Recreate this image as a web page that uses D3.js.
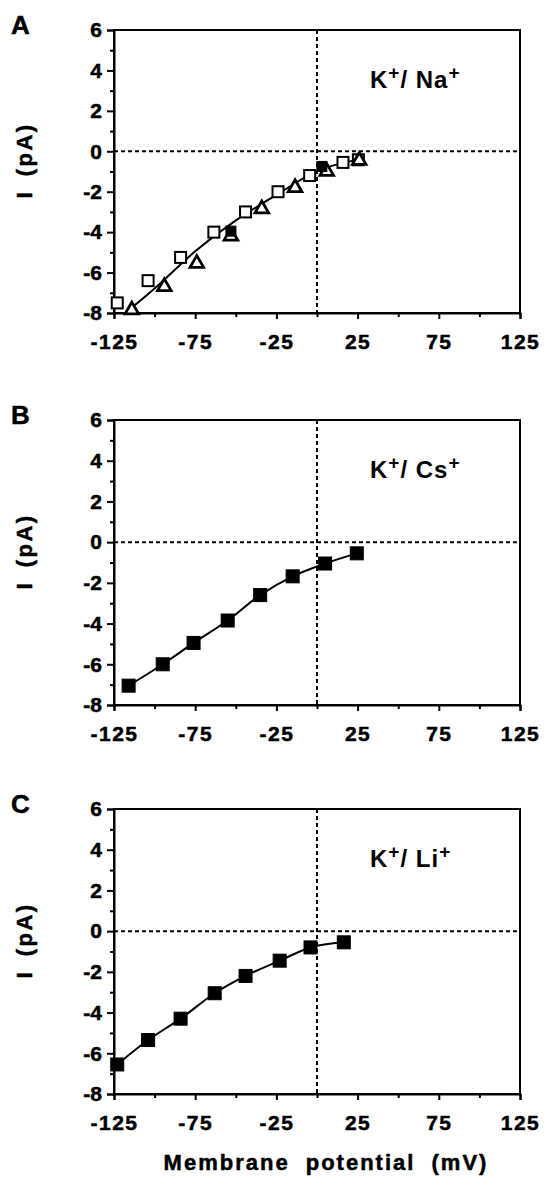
<!DOCTYPE html>
<html>
<head>
<meta charset="utf-8">
<script src="https://cdn.jsdelivr.net/npm/d3@7"></script>
<style>
body { margin: 0; background: #fff; }
svg text { font-family: "Liberation Sans", Arial, Helvetica, sans-serif; fill: #000; }
</style>
</head>
<body>
<svg width="549" height="1185"></svg>
<script>
// ---- data ----
const panelLetters = ['A', 'B', 'C']
const ionNames = ['Na', 'Cs', 'Li']

const xTicks = [-125, -100, -75, -50, -25, 0, 25, 50, 75, 100, 125]
const xLabels = [-125, -75, -25, 25, 75, 125]
const yTicks = [-8, -7, -6, -5, -4, -3, -2, -1, 0, 1, 2, 3, 4, 5, 6]
const yLabels = [-8, -6, -4, -2, 0, 2, 4, 6]

// panel A, K+/Na+
const naSquareV = [-123, -104, -84, -63.5, -44, -24, -4.5, 16, 25.5]
const naSquareI = [-7.5, -6.4, -5.25, -4.0, -3.0, -2.0, -1.2, -0.55, -0.42]
const naTriV = [-114, -94, -74, -53, -34, -13.5, 6, 26]
const naTriI = [-7.85, -6.7, -5.55, -4.2, -2.85, -1.8, -1.0, -0.45]
const naFilledV = [-53, 3]
const naFilledI = [-3.95, -0.75]
const naFitV = [-116.5, -100, -75, -50, -25, 0, 26]
const naFitI = [-7.9, -6.79, -4.95, -3.42, -2.16, -0.98, -0.4]

// panel B, K+/Cs+
const csV = [-116, -95, -76, -55, -35, -15, 5, 24.5]
const csI = [-7.05, -6.0, -4.95, -3.85, -2.6, -1.68, -1.05, -0.55]

// panel C, K+/Li+
const liV = [-123, -104, -84, -63, -44, -23, -4, 16.5]
const liI = [-6.55, -5.35, -4.3, -3.05, -2.2, -1.45, -0.8, -0.55]

const zip = (xs, ys) => xs.map((v, i) => [v, ys[i]])

// ---- layout ----
const svg = d3.select('svg')
const left = 114, right = 520
const tops = [30, 420, 809]
const bottoms = [313, 705, 1094]
const heavy = sel => sel.attr('font-weight', 'bold')
    .attr('stroke', '#000').attr('stroke-width', 0.5)

const draw_panel = (i, fit, sets) => {
    const x = d3.scaleLinear().domain([-125, 125]).range([left, right])
    const y = d3.scaleLinear().domain([-8, 6]).range([bottoms[i], tops[i]])
    const g = svg.append('g')

    // dotted zero lines
    g.append('line')
        .attr('x1', left).attr('x2', right)
        .attr('y1', y(0)).attr('y2', y(0))
        .attr('stroke', '#000').attr('stroke-width', 2)
        .attr('stroke-dasharray', '4,3')
    g.append('line')
        .attr('x1', x(0)).attr('x2', x(0))
        .attr('y1', tops[i]).attr('y2', bottoms[i])
        .attr('stroke', '#000').attr('stroke-width', 2)
        .attr('stroke-dasharray', '4,3')

    // frame
    g.append('rect')
        .attr('x', left).attr('y', tops[i])
        .attr('width', right - left).attr('height', bottoms[i] - tops[i])
        .attr('fill', 'none').attr('stroke', '#000').attr('stroke-width', 2)

    // x axis
    const gx = g.append('g')
        .attr('transform', `translate(0,${bottoms[i]})`)
        .call(d3.axisBottom(x).tickValues(xTicks).tickSizeOuter(0)
            .tickSize(6).tickPadding(15)
            .tickFormat(d => xLabels.includes(d) ? d : ''))
    gx.select('.domain').attr('stroke-width', 2)
    gx.selectAll('.tick line').attr('stroke-width', 2)
        .attr('y2', d => xLabels.includes(d) ? 6 : 4)
    gx.selectAll('.tick text')
        .attr('font-size', 21)
        .attr('font-family', '"Liberation Sans", Arial, sans-serif')
        .attr('letter-spacing', 1.5)
        .call(heavy)

    // y axis
    const gy = g.append('g')
        .attr('transform', `translate(${left},0)`)
        .call(d3.axisLeft(y).tickValues(yTicks).tickSizeOuter(0)
            .tickSize(7).tickPadding(5)
            .tickFormat(d => yLabels.includes(d) ? d : ''))
    gy.select('.domain').attr('stroke-width', 2)
    gy.selectAll('.tick line').attr('stroke-width', 2)
        .attr('x2', d => yLabels.includes(d) ? -7 : -4)
    gy.selectAll('.tick text')
        .attr('font-size', 21)
        .attr('font-family', '"Liberation Sans", Arial, sans-serif')
        .call(heavy)

    // fit curve
    const line = d3.line().x(d => x(d[0])).y(d => y(d[1])).curve(d3.curveMonotoneX)
    g.append('path').datum(fit)
        .attr('d', line)
        .attr('fill', 'none').attr('stroke', '#000').attr('stroke-width', 2)

    // markers
    sets.forEach(s => {
        if (s.shape == 'tri') {
            g.selectAll(null).data(s.pts).join('path')
                .attr('d', d3.symbol(d3.symbolTriangle, 80))
                .attr('transform', d => `translate(${x(d[0])},${y(d[1])})`)
                .attr('fill', '#fff').attr('stroke', '#000').attr('stroke-width', 2.8)
        } else {
            g.selectAll(null).data(s.pts).join('rect')
                .attr('x', d => x(d[0]) - s.size / 2)
                .attr('y', d => y(d[1]) - s.size / 2)
                .attr('width', s.size).attr('height', s.size)
                .attr('fill', s.fill).attr('stroke', '#000').attr('stroke-width', s.sw)
        }
    })

    // panel letter
    g.append('text')
        .attr('x', 11).attr('y', tops[i] + 4)
        .attr('font-size', 26)
        .call(heavy)
        .text(panelLetters[i])

    // y title
    const cy = (tops[i] + bottoms[i]) / 2 - 11
    g.append('text')
        .attr('transform', `translate(32,${cy}) rotate(-90)`)
        .attr('text-anchor', 'middle')
        .attr('font-size', 22)
        .attr('letter-spacing', 2.5).attr('word-spacing', 5)
        .call(heavy)
        .text('I (pA)')

    // ion label
    const t = g.append('text')
        .attr('x', 370).attr('y', tops[i] + 58)
        .attr('font-size', 24)
        .attr('letter-spacing', 1)
        .attr('font-weight', 'bold')
    t.append('tspan').text('K')
    t.append('tspan').attr('dy', -9).attr('font-size', 19).text('+')
    t.append('tspan').attr('dy', 9).text('/ ' + ionNames[i])
    t.append('tspan').attr('dy', -9).attr('font-size', 19).text('+')
}

draw_panel(0, zip(naFitV, naFitI), [
    {shape: 'sq', pts: zip(naSquareV, naSquareI), size: 11, fill: '#fff', sw: 2},
    {shape: 'tri', pts: zip(naTriV, naTriI)},
    {shape: 'sq', pts: zip(naFilledV, naFilledI), size: 10, fill: '#000', sw: 1}
])
draw_panel(1, zip(csV, csI), [
    {shape: 'sq', pts: zip(csV, csI), size: 13, fill: '#000', sw: 1}
])
draw_panel(2, zip(liV, liI), [
    {shape: 'sq', pts: zip(liV, liI), size: 13, fill: '#000', sw: 1}
])

// shared x title
svg.append('text')
    .attr('x', 326).attr('y', 1170)
    .attr('text-anchor', 'middle')
    .attr('font-size', 22)
    .attr('letter-spacing', 2).attr('word-spacing', 8)
    .call(heavy)
    .text('Membrane potential (mV)')
</script>
</body>
</html>
